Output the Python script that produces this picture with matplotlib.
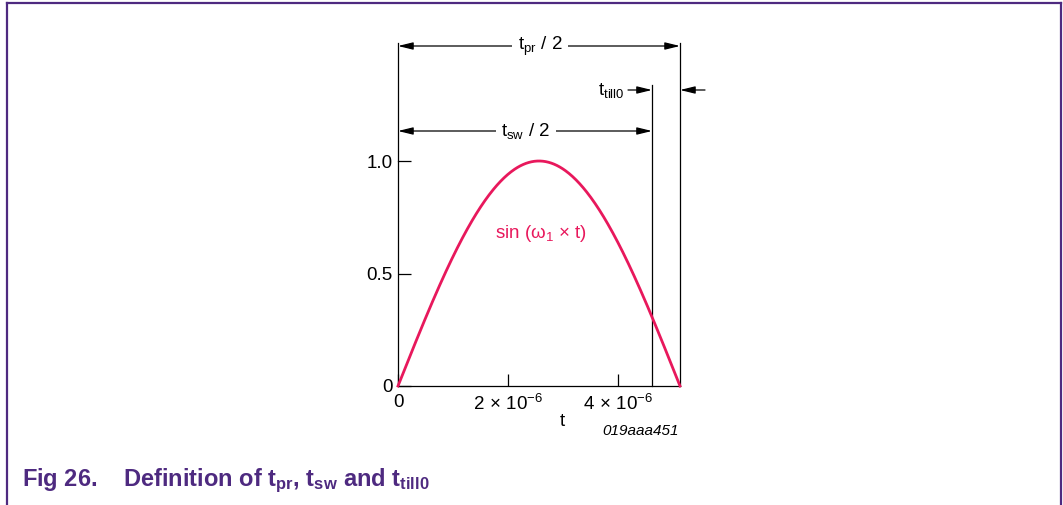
import matplotlib
matplotlib.use("Agg")
import matplotlib.pyplot as plt
from matplotlib.lines import Line2D
import numpy as np

plt.rcParams['font.family'] = ['Liberation Sans', 'DejaVu Sans']
plt.rcParams['mathtext.fontset'] = 'custom'
plt.rcParams['mathtext.rm'] = 'Liberation Sans'
plt.rcParams['mathtext.it'] = 'Liberation Sans:italic'
plt.rcParams['mathtext.bf'] = 'Liberation Sans:bold'

# timing values (s)
t_pr_half = 5.13e-6
t_sw_half = 4.62e-6
omega_1 = np.pi / t_pr_half

x_ticks = [0, 2e-6, 4e-6]
x_ticklabels = ['0', r'$\mathregular{2\,\times\,10^{-6}}$', r'$\mathregular{4\,\times\,10^{-6}}$']
y_ticks = [0, 0.5, 1.0]
y_ticklabels = ['0', '0.5', '1.0']

purple = '#4E2A80'
crimson = '#E8185C'
fs = 13.5

W, H = 1063, 505
fig = plt.figure(figsize=(W / 100, H / 100), dpi=100)

# axes in pixel placement
x0, x1, y0, y1 = 398, 680, 386, 161
ax = fig.add_axes([x0 / W, (H - y0) / H, (x1 - x0) / W, (y0 - y1) / H])
ax.set_xlim(0, t_pr_half)
ax.set_ylim(0, 1.0)
for s in ['top', 'right']:
    ax.spines[s].set_visible(False)
for s in ['left', 'bottom']:
    ax.spines[s].set_linewidth(0.9)

ax.set_xticks(x_ticks)
ax.set_xticklabels(x_ticklabels)
ax.set_yticks(y_ticks)
ax.set_yticklabels(y_ticklabels)
ax.tick_params(direction='in', length=9, width=0.9, labelsize=fs)
ax.tick_params(axis='x', pad=6)
ax.tick_params(axis='y', pad=4)

t = np.linspace(0, t_pr_half, 400)
ax.plot(t, np.sin(omega_1 * t), color=crimson, lw=2.0, clip_on=False, zorder=3)
ax.text(0.505 * t_pr_half, 0.68, r'sin ($\mathregular{ω_1}$ × t)', color=crimson,
        fontsize=fs, ha='center', va='center')

def py(p):
    # pixel row -> data y
    return (y0 - p) / (y0 - y1)

px2x = lambda p: t_pr_half * (p - x0) / (x1 - x0)

line_kw = dict(color='black', lw=0.9, clip_on=False)
ax.add_line(Line2D([0, 0], [1.0, py(43)], **line_kw))
ax.add_line(Line2D([t_pr_half, t_pr_half], [0, py(43)], **line_kw))
ax.add_line(Line2D([t_sw_half, t_sw_half], [0, py(85)], **line_kw))

arr = dict(arrowstyle='<|-|>,head_length=0.9,head_width=0.22', color='black',
           lw=0.9, shrinkA=0, shrinkB=0)
arr1 = dict(arrowstyle='-|>,head_length=0.9,head_width=0.22', color='black',
            lw=0.9, shrinkA=0, shrinkB=0)

ax.annotate('', xy=(t_pr_half, py(46)), xytext=(0, py(46)), arrowprops=arr,
            annotation_clip=False)
ax.text(px2x(540), py(46), r'$\mathregular{t_{pr}}$ / 2',
        fontsize=fs, ha='center', va='center',
        bbox=dict(facecolor='white', edgecolor='none', pad=4))

ax.annotate('', xy=(t_sw_half, py(131)), xytext=(0, py(131)), arrowprops=arr,
            annotation_clip=False)
ax.text(px2x(526), py(131), r'$\mathregular{t_{sw}}$ / 2',
        fontsize=fs, ha='center', va='center',
        bbox=dict(facecolor='white', edgecolor='none', pad=4))

ax.annotate('', xy=(t_sw_half, py(90)), xytext=(px2x(628), py(90)), arrowprops=arr1,
            annotation_clip=False)
ax.annotate('', xy=(t_pr_half, py(90)), xytext=(px2x(705), py(90)), arrowprops=arr1,
            annotation_clip=False)
ax.text(px2x(625), py(90), r'$\mathregular{t_{till0}}$', fontsize=fs,
        ha='right', va='center')

fig.text(562 / W, 1 - 422 / H, 't', fontsize=fs, ha='center', va='center')
fig.text(641 / W, 1 - 431 / H, '019aaa451', fontsize=11, style='italic',
         ha='center', va='center')

fig.text(22 / W, 1 - 481 / H,
         r'Fig 26.    Definition of $\mathbf{t_{pr}}$, $\mathbf{t_{sw}}$ and $\mathbf{t_{till0}}$',
         fontsize=17, fontweight='bold', color=purple, ha='left', va='center')

# page frame
frame_kw = dict(color=purple, lw=1.6, transform=fig.transFigure)
fig.add_artist(Line2D([7 / W, 1061 / W], [1 - 2.5 / H, 1 - 2.5 / H], **frame_kw))
fig.add_artist(Line2D([7 / W, 7 / W], [0, 1 - 2.5 / H], **frame_kw))
fig.add_artist(Line2D([1061 / W, 1061 / W], [0, 1 - 2.5 / H], **frame_kw))

fig.savefig('out.png', dpi=100)
